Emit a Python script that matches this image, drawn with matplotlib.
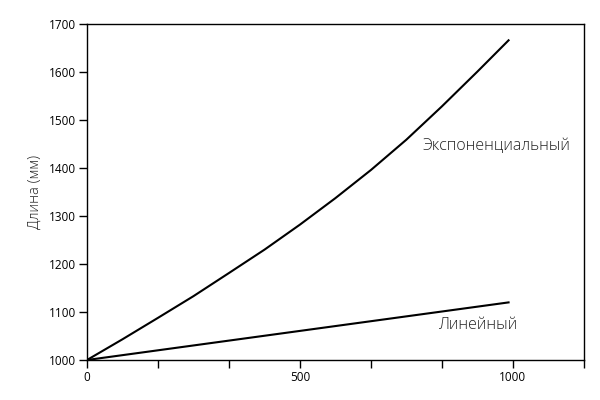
import matplotlib
matplotlib.use("Agg")
import matplotlib.pyplot as plt

# Данные
exp_x = [0, 83, 167, 250, 333, 417, 500, 583, 667, 750, 833, 917, 990]
exp_y = [1000, 1043, 1088, 1133, 1181, 1230, 1282, 1337, 1396, 1459, 1528, 1601, 1666]
lin_x = [0, 990]
lin_y = [1000, 1120]

x_ticks = [0, 1000 / 6, 2000 / 6, 500, 4000 / 6, 5000 / 6, 1000, 7000 / 6]
x_labels = ["0", "", "", "500", "", "", "1000", ""]
y_ticks = [1000, 1100, 1200, 1300, 1400, 1500, 1600, 1700]

plt.rcParams['font.family'] = ['Open Sans', 'DejaVu Sans']

fig = plt.figure(figsize=(6, 4), dpi=100)
ax = fig.add_axes([0.145, 0.10, 0.828, 0.84])

ax.plot(exp_x, exp_y, color="black", lw=1.5)
ax.plot(lin_x, lin_y, color="black", lw=1.5)

ax.set_xlim(0, 7000 / 6)
ax.set_ylim(1000, 1700)
ax.set_xticks(x_ticks)
ax.set_xticklabels(x_labels)
ax.set_yticks(y_ticks)
ax.tick_params(direction="out", length=6, width=1, labelsize=8.5, pad=2)
for s in ax.spines.values():
    s.set_linewidth(1)

ax.set_ylabel("Длина (мм)", fontsize=10.5, color="#222222", labelpad=4,
              fontweight="light")

ax.text(1136, 1446, "Экспоненциальный", ha="right", va="center",
        fontsize=11.5, color="#222222", fontweight="light")
ax.text(1012, 1073, "Линейный", ha="right", va="center",
        fontsize=11.5, color="#222222", fontweight="light")

fig.savefig("out.png", dpi=100)
